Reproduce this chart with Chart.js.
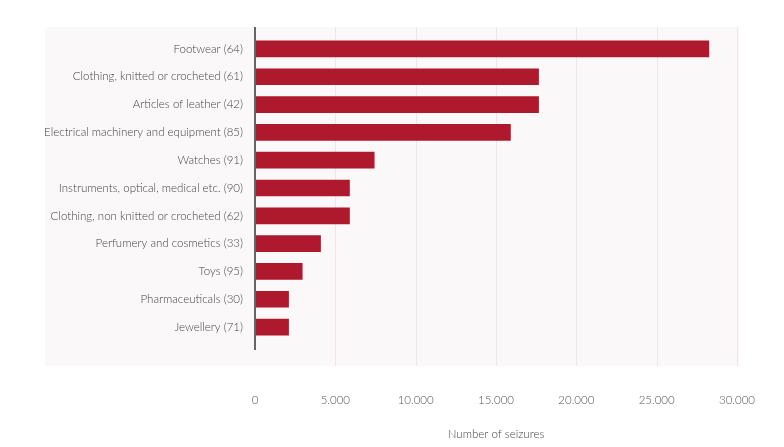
<!DOCTYPE html>
<html>
<head>
<meta charset="utf-8">
<script src="https://cdn.jsdelivr.net/npm/chart.js@4/dist/chart.umd.min.js"></script>
<style>
  html, body { margin: 0; padding: 0; background: #ffffff; }
  #seizures { display: block; }
</style>
</head>
<body>
<canvas id="seizures" width="784" height="447"></canvas>
<script>
// product categories (chapter number in brackets)
var categories = [
	"Footwear (64)",
	"Clothing, knitted or crocheted (61)",
	"Articles of leather (42)",
	"Electrical machinery and equipment (85)",
	"Watches (91)",
	"Instruments, optical, medical etc. (90)",
	"Clothing, non knitted or crocheted (62)",
	"Perfumery and cosmetics (33)",
	"Toys (95)",
	"Pharmaceuticals (30)",
	"Jewellery (71)"
];

// number of seizures
var seizures = [28250, 17650, 17650, 15900, 7420, 5880, 5880, 4080, 2940, 2090, 2090];

var xTicks = [0, 5000, 10000, 15000, 20000, 25000, 30000];
var xTitle = "Number of seizures";

var barColour = '#ae192d';
var panelColour = '#fbf8f9';
var gridColour = '#f3e2e6';

var formatThousands = function(v) {
	return String(v).replace(/\B(?=(\d{3})+(?!\d))/g, '.');
};

// light panel behind the plot, pink grid lines and the dark zero axis
var panelPlugin = {
	id: 'panel',
	beforeDraw: function(chart) {
		var ctx = chart.ctx;
		var area = chart.chartArea;
		ctx.save();
		ctx.fillStyle = panelColour;
		ctx.fillRect(45, area.top - 8, area.right + 2 - 45, area.bottom + 25 - (area.top - 8));
		var xScale = chart.scales.x;
		ctx.strokeStyle = gridColour;
		ctx.lineWidth = 1;
		for (var i = 1; i < xTicks.length; i++) {
			var px = Math.round(xScale.getPixelForValue(xTicks[i])) + 0.5;
			ctx.beginPath();
			ctx.moveTo(px, area.top - 8);
			ctx.lineTo(px, area.bottom + 25);
			ctx.stroke();
		}
		ctx.restore();
	},
	afterDatasetsDraw: function(chart) {
		var ctx = chart.ctx;
		var area = chart.chartArea;
		var x0 = chart.scales.x.getPixelForValue(0);
		ctx.save();
		ctx.strokeStyle = '#666666';
		ctx.lineWidth = 2;
		ctx.beginPath();
		ctx.moveTo(x0, area.top - 8);
		ctx.lineTo(x0, area.bottom + 9);
		ctx.stroke();
		ctx.restore();
	}
};

Chart.defaults.font.family = 'Lato, "Open Sans", sans-serif';
Chart.defaults.font.size = 11.5;
Chart.defaults.font.weight = '300';

var config = {
	type: 'bar',
	data: {
		labels: categories,
		datasets: [{
			data: seizures,
			backgroundColor: barColour,
			borderWidth: 0,
			barThickness: 16
		}]
	},
	options: {
		responsive: false,
		animation: false,
		indexAxis: 'y',
		layout: {
			padding: { top: 35, right: 47, bottom: 0, left: 0 }
		},
		plugins: {
			legend: { display: false },
			tooltip: { enabled: false }
		},
		scales: {
			x: {
				min: 0,
				max: 30000,
				grid: { display: false, drawTicks: false },
				border: { display: false },
				afterBuildTicks: function(scale) {
					scale.ticks = xTicks.map(function(v) { return { value: v }; });
				},
				afterFit: function(scale) {
					scale.height = 106;
					scale.paddingLeft = 0;
					scale.paddingRight = 0;
				},
				ticks: {
					padding: 52,
					color: '#555555',
					font: { size: 11.5, weight: '300' },
					maxRotation: 0,
					callback: function(value) { return formatThousands(value); }
				},
				title: {
					display: true,
					text: xTitle,
					color: '#444444',
					font: { size: 11.5, weight: '300' },
					padding: { top: 0, bottom: 6 }
				}
			},
			y: {
				grid: { display: false, drawTicks: false },
				border: { display: false },
				afterFit: function(scale) {
					scale.width = 255;
					scale.paddingTop = 0;
					scale.paddingBottom = 0;
				},
				ticks: {
					padding: 12,
					color: '#444444',
					font: { size: 11.5, weight: '300' }
				}
			}
		}
	},
	plugins: [panelPlugin]
};

var ctx = document.getElementById("seizures").getContext("2d");
window.seizureChart = new Chart(ctx, config);
</script>
</body>
</html>
